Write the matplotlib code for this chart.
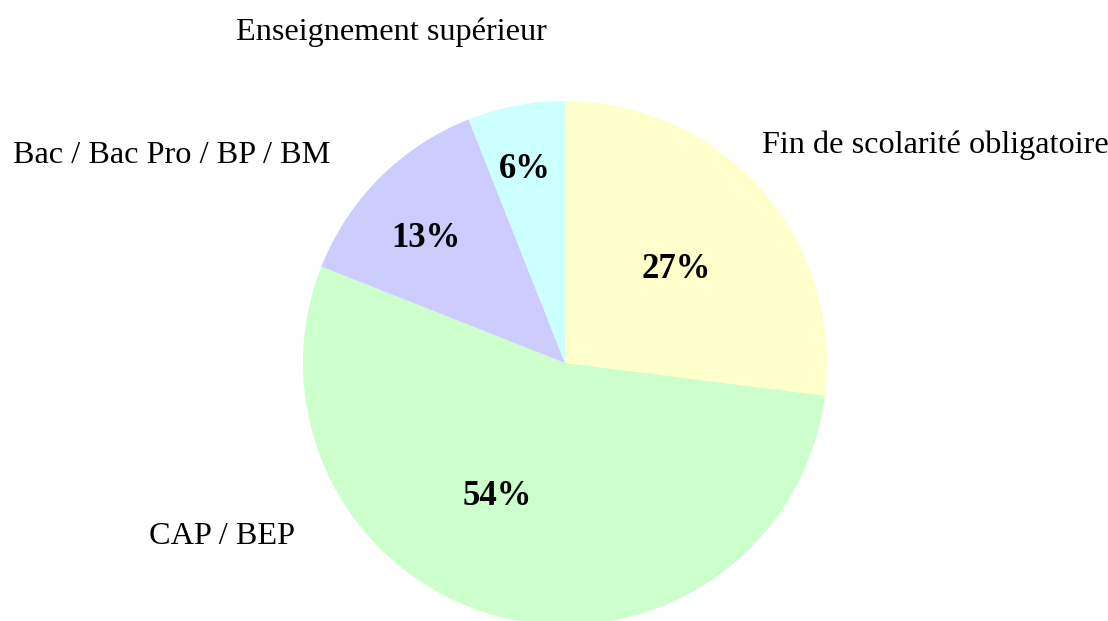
import matplotlib

matplotlib.use("Agg")
import matplotlib.pyplot as plt

# --- data ---
CATEGORIES = ["Fin de scolarité obligatoire", "CAP / BEP",
              "Bac / Bac Pro / BP / BM", "Enseignement supérieur"]
SHARES = [27, 54, 13, 6]
COLORS = ["#ffffcc", "#ccffcc", "#ccccff", "#ccffff"]

# --- layout (pixel coords, y measured from top) ---
W, H = 1108, 621
CENTER, RADIUS = (565, 363), 262
CAT_POS = [(762, 153), (149, 544), (13, 163), (236, 40)]
PCT_POS = [(676, 278), (497, 505), (426, 247), (525, 178)]

plt.rcParams["font.family"] = ["Liberation Serif", "DejaVu Serif"]
fig = plt.figure(figsize=(W / 100, H / 100), dpi=100)
ax = fig.add_axes([0, 0, 1, 1])

ax.pie(SHARES, colors=COLORS, startangle=90, counterclock=False,
       center=(CENTER[0], H - CENTER[1]), radius=RADIUS,
       wedgeprops=dict(linewidth=0))

for name, (x, y) in zip(CATEGORIES, CAT_POS):
    ax.text(x, H - y, name, ha="left", va="baseline", fontsize=23.2, color="black")
for v, (x, y) in zip(SHARES, PCT_POS):
    ax.text(x, H - y, f"{v}%", ha="center", va="baseline", fontsize=25,
            fontweight="bold", color="black")

ax.set_xlim(0, W)
ax.set_ylim(0, H)
ax.set_aspect("equal")
ax.axis("off")
fig.savefig("out.png", dpi=100, facecolor="white")
